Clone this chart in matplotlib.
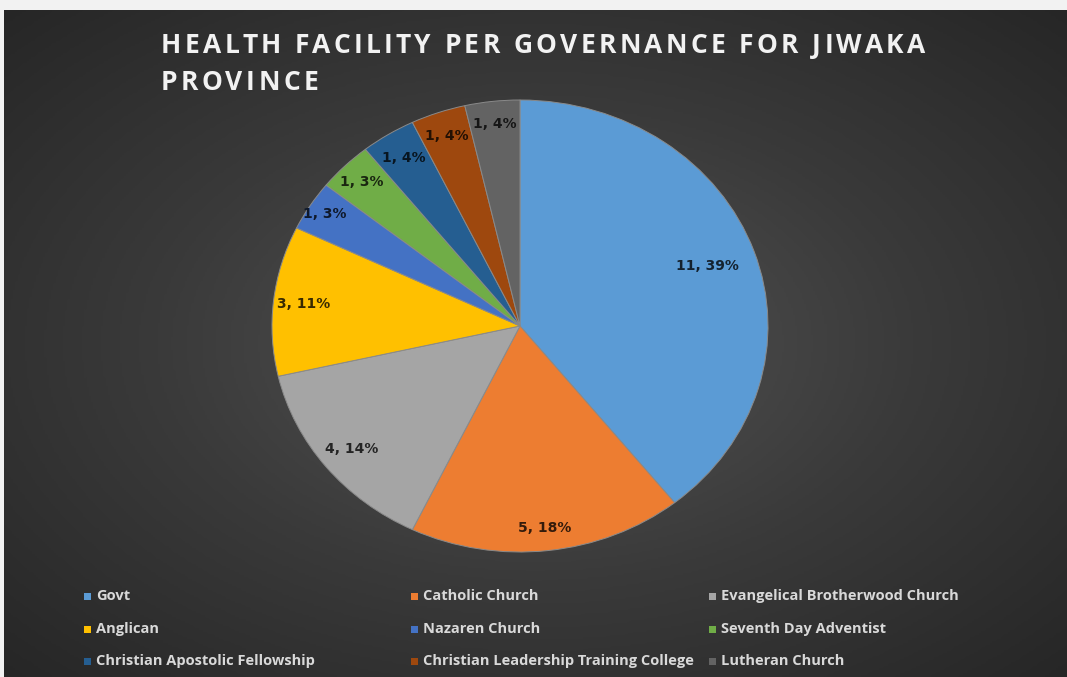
import numpy as np
import matplotlib.pyplot as plt
from matplotlib.patches import Rectangle
import matplotlib.colors as mcolors

# data
categories = ['Govt', 'Catholic Church', 'Evangelical Brotherwood Church',
              'Anglican', 'Nazaren Church', 'Seventh Day Adventist',
              'Christian Apostolic Fellowship', 'Christian Leadership Training College',
              'Lutheran Church']
counts = [11, 5, 4, 3, 1, 1, 1, 1, 1]
pct_labels = ['39%', '18%', '14%', '11%', '3%', '3%', '4%', '4%', '4%']
colors = ['#5B9BD5', '#ED7D31', '#A5A5A5', '#FFC000', '#4472C4',
          '#70AD47', '#255E91', '#9E480E', '#636363']
title_lines = ['HEALTH FACILITY PER GOVERNANCE FOR JIWAKA', 'PROVINCE']
label_r = [0.80, 0.90, 0.87, 0.88, 0.93, 0.90, 0.88, 0.89, 0.90]

W, H = 1067, 677
fig = plt.figure(figsize=(W / 100, H / 100), dpi=100)
fig.patch.set_facecolor('#f2f2f2')

# dark radial background
bg = fig.add_axes([4 / W, 0, 1 - 4 / W, 1 - 10 / H])
yy, xx = np.mgrid[0:1:300j, 0:1:470j]
d = np.sqrt(((xx - 0.5) / 0.75) ** 2 + ((yy - 0.5) / 0.75) ** 2)
d = np.clip(d / 0.95, 0, 1)
cmap = mcolors.LinearSegmentedColormap.from_list('bg', ['#545454', '#3a3a3a', '#262626'])
bg.imshow(d, cmap=cmap, aspect='auto', extent=[0, 1, 0, 1], vmin=0, vmax=1)
bg.set_axis_off()

font = 'Open Sans'
renderer = fig.canvas.get_renderer()
tstyle = dict(color='#f2f2f2', fontsize=19, fontweight='bold', family=font)


def text_width(s):
    t = fig.text(0, 0, s, **tstyle)
    w = t.get_window_extent(renderer).width
    t.remove()
    return w


# letter-spaced title, drawn char by char
x0, x_end = 161, 925
line1 = title_lines[0]
spacing = (x_end - x0 - text_width(line1)) / (len(line1) - 1)
ref_w = text_width('X')
for line, base in zip(title_lines, [53, 90]):
    for i, ch in enumerate(line):
        if ch == ' ':
            continue
        x = x0 + text_width(line[:i] + 'X') - ref_w + i * spacing
        fig.text(x / W, 1 - base / H, ch, va='baseline', **tstyle)

# pie
ax = fig.add_axes([272 / W, 1 - 552 / H, 496 / W, 452 / H])
wedges, _ = ax.pie(counts, colors=colors, startangle=90, counterclock=False,
                   wedgeprops=dict(edgecolor='#8a8a8a', linewidth=0.7))
ax.set_aspect('auto')
ax.set_xlim(-1, 1)
ax.set_ylim(-1, 1)

for w, c, p, col, r in zip(wedges, counts, pct_labels, colors, label_r):
    ang = np.deg2rad((w.theta1 + w.theta2) / 2)
    rgb = np.array(mcolors.to_rgb(col)) * 0.22
    ax.text(r * np.cos(ang), r * np.sin(ang), f'{c}, {p}', ha='center', va='center',
            fontsize=10, fontweight='bold', family='DejaVu Sans', color=rgb)

# legend, filled row by row
col_x = [84, 411, 709]
row_y = [596, 629, 661]
for i, (name, col) in enumerate(zip(categories, colors)):
    x = col_x[i % 3]
    y = row_y[i // 3]
    fig.patches.append(Rectangle((x / W, 1 - (y + 4) / H), 7 / W, 7 / H,
                                 transform=fig.transFigure, facecolor=col,
                                 edgecolor='none'))
    fig.text((x + 12) / W, 1 - y / H, name, color='#d9d9d9', fontsize=10.5,
             fontweight='bold', family=font, va='center')

fig.savefig('out.png', dpi=100, facecolor=fig.get_facecolor())
